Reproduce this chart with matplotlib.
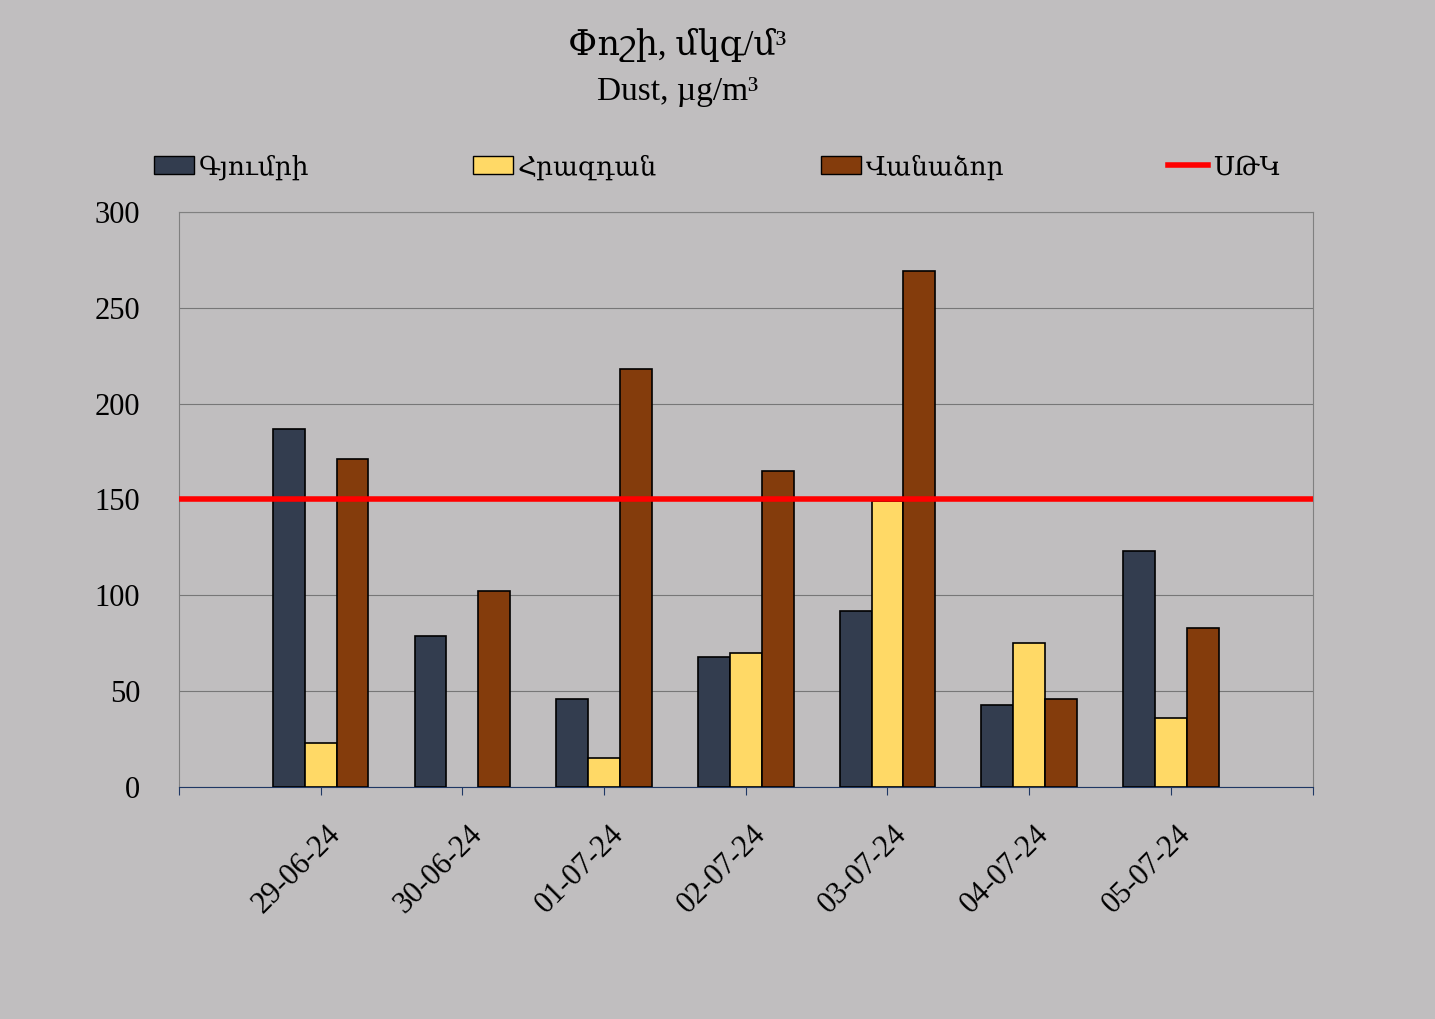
import numpy as np
import matplotlib
import matplotlib.pyplot as plt
from matplotlib.lines import Line2D
from matplotlib.patches import Patch

plt.rcParams['font.family'] = ['Liberation Serif', 'DejaVu Serif', 'DejaVu Sans']

dates = ['29-06-24', '30-06-24', '01-07-24', '02-07-24', '03-07-24', '04-07-24', '05-07-24']
gyumri = [187, 79, 46, 68, 92, 43, 123]
hrazdan = [23, 0, 15, 70, 149, 75, 36]
vanadzor = [171, 102, 218, 165, 269, 46, 83]
limit = 150

bg = '#C0BEBF'
fig = plt.figure(figsize=(14.35, 10.19), dpi=100, facecolor=bg)
ax = fig.add_axes([0.1247, 0.2277, 0.79, 0.5643], facecolor=bg)

x = np.arange(len(dates))
w = 0.225
hz = np.array(hrazdan, dtype=float)
ax.bar(x - w, gyumri, w, color='#333D4F', edgecolor='black', linewidth=1.2, zorder=3)
ax.bar(x[hz > 0], hz[hz > 0], w, color='#FFD966', edgecolor='black', linewidth=1.2, zorder=3)
ax.bar(x + w, vanadzor, w, color='#843C0C', edgecolor='black', linewidth=1.2, zorder=3)
ax.axhline(limit, color='#FF0000', linewidth=4, zorder=4)

ax.set_xlim(-1, len(dates))
ax.set_ylim(0, 300)
ax.set_yticks(range(0, 301, 50))
ax.yaxis.grid(True, color='#777777', linewidth=0.8, zorder=0)
ax.tick_params(axis='y', length=0, labelsize=22, pad=28)
ax.set_xticks(np.arange(-1, len(dates) + 1))
ax.set_xticklabels([''] + dates + [''], rotation=45, ha='right', rotation_mode='anchor', fontsize=22)
ax.tick_params(axis='x', length=6, color='#1F3864', pad=14)
for lab in ax.get_xticklabels():
    lab.set_transform(lab.get_transform() + matplotlib.transforms.ScaledTranslation(0.05, -0.05, fig.dpi_scale_trans))
for s in ['top', 'right', 'left']:
    ax.spines[s].set_color('#808080')
ax.spines['bottom'].set_color('#1F3864')

fig.text(0.472, 0.955, 'Փոշի, մկգ/մ³', ha='center', va='center', fontsize=25)
fig.text(0.472, 0.91, 'Dust, µg/m³', ha='center', va='center', fontsize=24)

handles = [Patch(facecolor='#333D4F', edgecolor='black'),
           Patch(facecolor='#FFD966', edgecolor='black'),
           Patch(facecolor='#843C0C', edgecolor='black'),
           Line2D([], [], color='#FF0000', linewidth=4)]
labels = ['Գյումրի', 'Հրազդան', 'Վանաձոր', 'ՍԹԿ']
fig.legend(handles, labels, loc='center', bbox_to_anchor=(0.5, 0.836), ncol=4,
           frameon=False, fontsize=19, columnspacing=6.2, handlelength=1.5, handletextpad=0.2)

fig.savefig('out.png', dpi=100, facecolor=bg)
